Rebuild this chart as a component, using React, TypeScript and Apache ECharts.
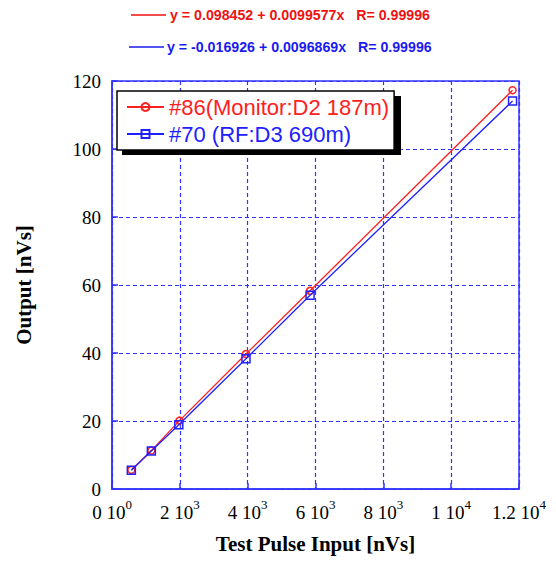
import React, { useEffect, useRef } from "react";
import * as echarts from "echarts";

const seriesNames = ["#86(Monitor:D2 187m)", "#70 (RF:D3 690m)"];
const redX = [570, 1160, 1990, 3950, 5840, 11810];
const redY = [5.6, 11.3, 20.1, 39.7, 58.3, 117.3];
const blueX = [570, 1160, 1970, 3950, 5840, 11810];
const blueY = [5.5, 11.2, 18.9, 38.3, 57.0, 114.1];
const xTickValues = [0, 2000, 4000, 6000, 8000, 10000, 12000];
const xTickMant = ["0", "2", "4", "6", "8", "1", "1.2"];
const xTickExp = ["0", "3", "3", "3", "3", "4", "4"];
const fitTexts = [
  "y = 0.098452 + 0.0099577x   R= 0.99996",
  "y = -0.016926 + 0.0096869x   R= 0.99996",
];

const RED = "#ff2020";
const BLUE = "#2020ff";
const AXIS = "#3333ff";
const SERIF = "'Liberation Serif', 'Times New Roman', serif";
const SANS = "'Liberation Sans', Arial, sans-serif";

export default function App() {
  const ref = useRef<HTMLDivElement>(null);
  useEffect(() => {
    if (!ref.current) return;
    const chart = echarts.init(ref.current, undefined, { renderer: "svg" });
    const redData = redX.map((x, i) => [x, redY[i]]);
    const blueData = blueX.map((x, i) => [x, blueY[i]]);
    chart.setOption({
      animation: false,
      backgroundColor: "#ffffff",
      grid: {
        left: 112,
        right: 37,
        top: 81,
        bottom: 72,
        show: true,
        borderColor: AXIS,
        borderWidth: 1.5,
        backgroundColor: "transparent",
      },
      xAxis: {
        type: "value",
        min: 0,
        max: 12000,
        interval: 2000,
        name: "Test Pulse Input [nVs]",
        nameLocation: "middle",
        nameGap: 44,
        nameTextStyle: { fontFamily: SERIF, fontWeight: "bold", fontSize: 21, color: "#000" },
        axisLine: { show: true, lineStyle: { color: AXIS, width: 1.5 } },
        axisTick: { show: true, inside: true, length: 6, lineStyle: { color: AXIS, width: 1.5 } },
        splitLine: { show: true, lineStyle: { color: AXIS, width: 1.2, type: [4, 3] } },
        axisLabel: {
          margin: 9,
          formatter: (v: number) => {
            const i = xTickValues.indexOf(v);
            if (i < 0) return "";
            return "{n|" + xTickMant[i] + " 10}{s|" + xTickExp[i] + "}";
          },
          rich: {
            n: { fontFamily: SERIF, fontSize: 19, color: "#000", lineHeight: 24, verticalAlign: "bottom" },
            s: { fontFamily: SERIF, fontSize: 13, color: "#000", lineHeight: 24, verticalAlign: "top" },
          },
        },
      },
      yAxis: {
        type: "value",
        min: 0,
        max: 120,
        interval: 20,
        name: "Output [nVs]",
        nameLocation: "middle",
        nameGap: 78,
        nameTextStyle: { fontFamily: SERIF, fontWeight: "bold", fontSize: 21, color: "#000" },
        axisLine: { show: true, lineStyle: { color: AXIS, width: 1.5 } },
        axisTick: { show: true, inside: true, length: 6, lineStyle: { color: AXIS, width: 1.5 } },
        splitLine: { show: true, lineStyle: { color: AXIS, width: 1.2, type: [4, 3] } },
        axisLabel: { margin: 11, fontFamily: SERIF, fontSize: 19, color: "#000" },
      },
      legend: {
        orient: "vertical",
        left: 117,
        top: 91,
        z: 10,
        backgroundColor: "#ffffff",
        borderColor: "#000000",
        borderWidth: 1.5,
        padding: [5, 5, 5, 9],
        itemGap: 5,
        itemWidth: 37,
        itemHeight: 10,
        data: [
          { name: seriesNames[0], textStyle: { color: RED } },
          { name: seriesNames[1], textStyle: { color: BLUE } },
        ],
        textStyle: { fontFamily: SANS, fontSize: 22 },
      },
      graphic: [
        { type: "rect", z: 9, shape: { x: 122, y: 96, width: 279, height: 59 }, style: { fill: "#000" } },
        { type: "line", shape: { x1: 131, y1: 15, x2: 166, y2: 15 }, style: { stroke: "#ee1111", lineWidth: 1.5 } },
        {
          type: "text", x: 170, y: 15,
          style: { text: fitTexts[0], fill: "#ee1111", font: "bold 14.2px " + SANS, verticalAlign: "middle" },
        },
        { type: "line", shape: { x1: 129, y1: 47, x2: 164, y2: 47 }, style: { stroke: "#1a1aee", lineWidth: 1.5 } },
        {
          type: "text", x: 167, y: 47,
          style: { text: fitTexts[1], fill: "#1a1aee", font: "bold 14.2px " + SANS, verticalAlign: "middle" },
        },
      ],
      series: [
        {
          name: seriesNames[0],
          type: "line",
          color: RED,
          data: redData,
          symbol: "circle",
          symbolSize: 7,
          lineStyle: { color: RED, width: 1.3 },
          itemStyle: { color: "rgba(255,255,255,0)", borderColor: RED, borderWidth: 1.5 },
          z: 3,
        },
        {
          name: seriesNames[1],
          type: "line",
          color: BLUE,
          data: blueData,
          symbol: "rect",
          symbolSize: 8,
          lineStyle: { color: BLUE, width: 1.3 },
          itemStyle: { color: "rgba(255,255,255,0)", borderColor: BLUE, borderWidth: 1.5 },
          z: 4,
        },
      ],
    });
    return () => chart.dispose();
  }, []);
  return (
    <div
      ref={ref}
      style={{ position: "fixed", left: 0, top: 0, width: 556, height: 561 }}
    />
  );
}
